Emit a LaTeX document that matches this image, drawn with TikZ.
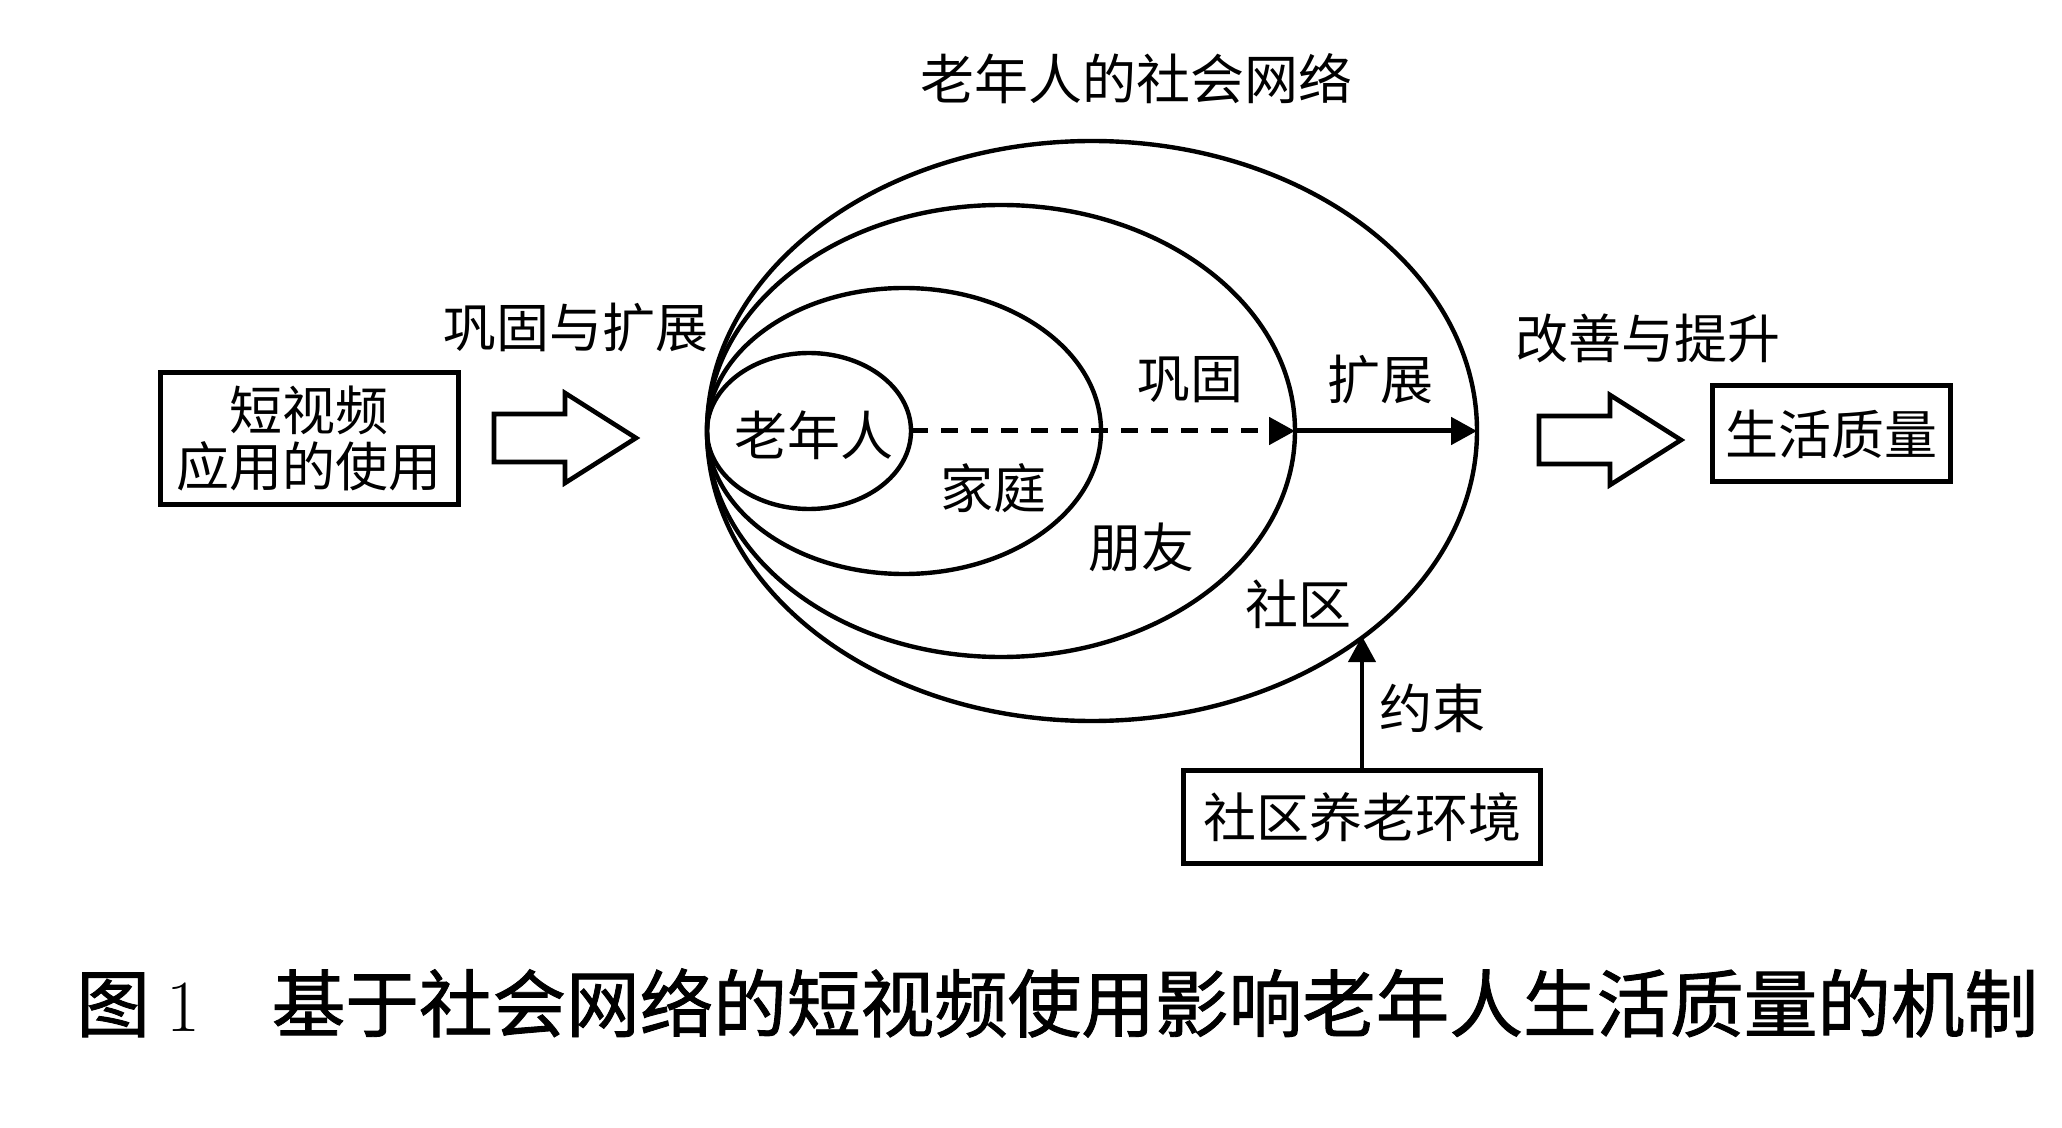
\documentclass[tikz,border=0pt]{standalone}
\usepackage{fontspec}
\newfontfamily\cjk{Noto Sans CJK SC}
\newfontfamily\cjkcap[FakeBold=1.2]{Noto Sans CJK SC}
\usetikzlibrary{arrows.meta,shapes.geometric}
\begin{document}
\begin{tikzpicture}[x=0.5pt,y=-0.5pt,
  ell/.style={draw, ellipse, line width=2.2pt, inner sep=0pt, outer sep=0pt},
  lbl/.style={font=\cjk\fontsize{26.5}{28}\selectfont, inner sep=0pt},
  boxnode/.style={draw, line width=2.5pt, align=center, inner sep=0pt, outer sep=0pt,
    font=\cjk\fontsize{26.5}{28}\selectfont},
  harrow/.style={draw, line width=2.3pt, fill=white, line join=miter},
  tipstyle/.style={-{Triangle[length=13pt,width=13.5pt]}},
  dashline/.style={line width=2.5pt, dash pattern=on 8.5pt off 6.5pt},
  hollow/.pic={\draw[harrow] (0,-24) -- (71,-24) -- (71,-45) -- (142,0) -- (71,45) -- (71,24) -- (0,24) -- cycle;}
]
\useasboundingbox (0,0) rectangle (2062,1128);

% nested ellipses (social network)
\node[ell, minimum width=385pt, minimum height=290pt] (E1) at (1092,431) {};
\node[ell, minimum width=294pt, minimum height=226pt] (E2) at (1001,431) {};
\node[ell, minimum width=197pt, minimum height=143pt] (E3) at (904,431) {};
\node[ell, minimum width=102pt, minimum height=78pt] (E4) at (809,431) {};

% arrows inside the network
\draw[dashline, tipstyle] (E4.east) -- (E2.east);
\draw[line width=2.5pt, tipstyle] (E2.east) -- (E1.east);

% labels inside the network
\node[lbl] (elder) at (814,435) {老年人};
\node[lbl] (family) at (993,488) {家庭};
\node[lbl] (consol) at (1190,380) {巩固};
\node[lbl] (expand) at (1380,380) {扩展};
\node[lbl] (friend) at (1141,547) {朋友};
\node[lbl] (commu) at (1298,604) {社区};

% title
\node[font=\cjk\fontsize{27}{29}\selectfont, inner sep=0pt] (title) at (1136,79) {老年人的社会网络};

% left box and hollow arrow
\node[boxnode, minimum width=149pt, minimum height=66pt] (src) at (309,439) {短视频\\应用的使用};
\pic at (494,438) {hollow};
\node[lbl] (ce) at (576,328) {巩固与扩展};

% right box and hollow arrow
\pic at (1539,440) {hollow};
\node[lbl] (ip) at (1648,338) {改善与提升};
\node[boxnode, minimum width=119pt, minimum height=48pt] (qol) at (1831,434) {生活质量};

% bottom box and constraint arrow
\node[boxnode, minimum width=178.5pt, minimum height=46.5pt] (env) at (1362,817) {社区养老环境};
\draw[line width=2.2pt, tipstyle] (env.north) -- (env.north |- E1.-37.5);
\node[lbl] (constr) at (1432,708) {约束};

% caption
\node[anchor=west, inner sep=0pt, font=\cjkcap\fontsize{36.8}{40}\selectfont] (cap) at (76,1003)
  {图\hspace{8pt}{\rmfamily 1}\hspace{36pt}基于社会网络的短视频使用影响老年人生活质量的机制};
\end{tikzpicture}
\end{document}
